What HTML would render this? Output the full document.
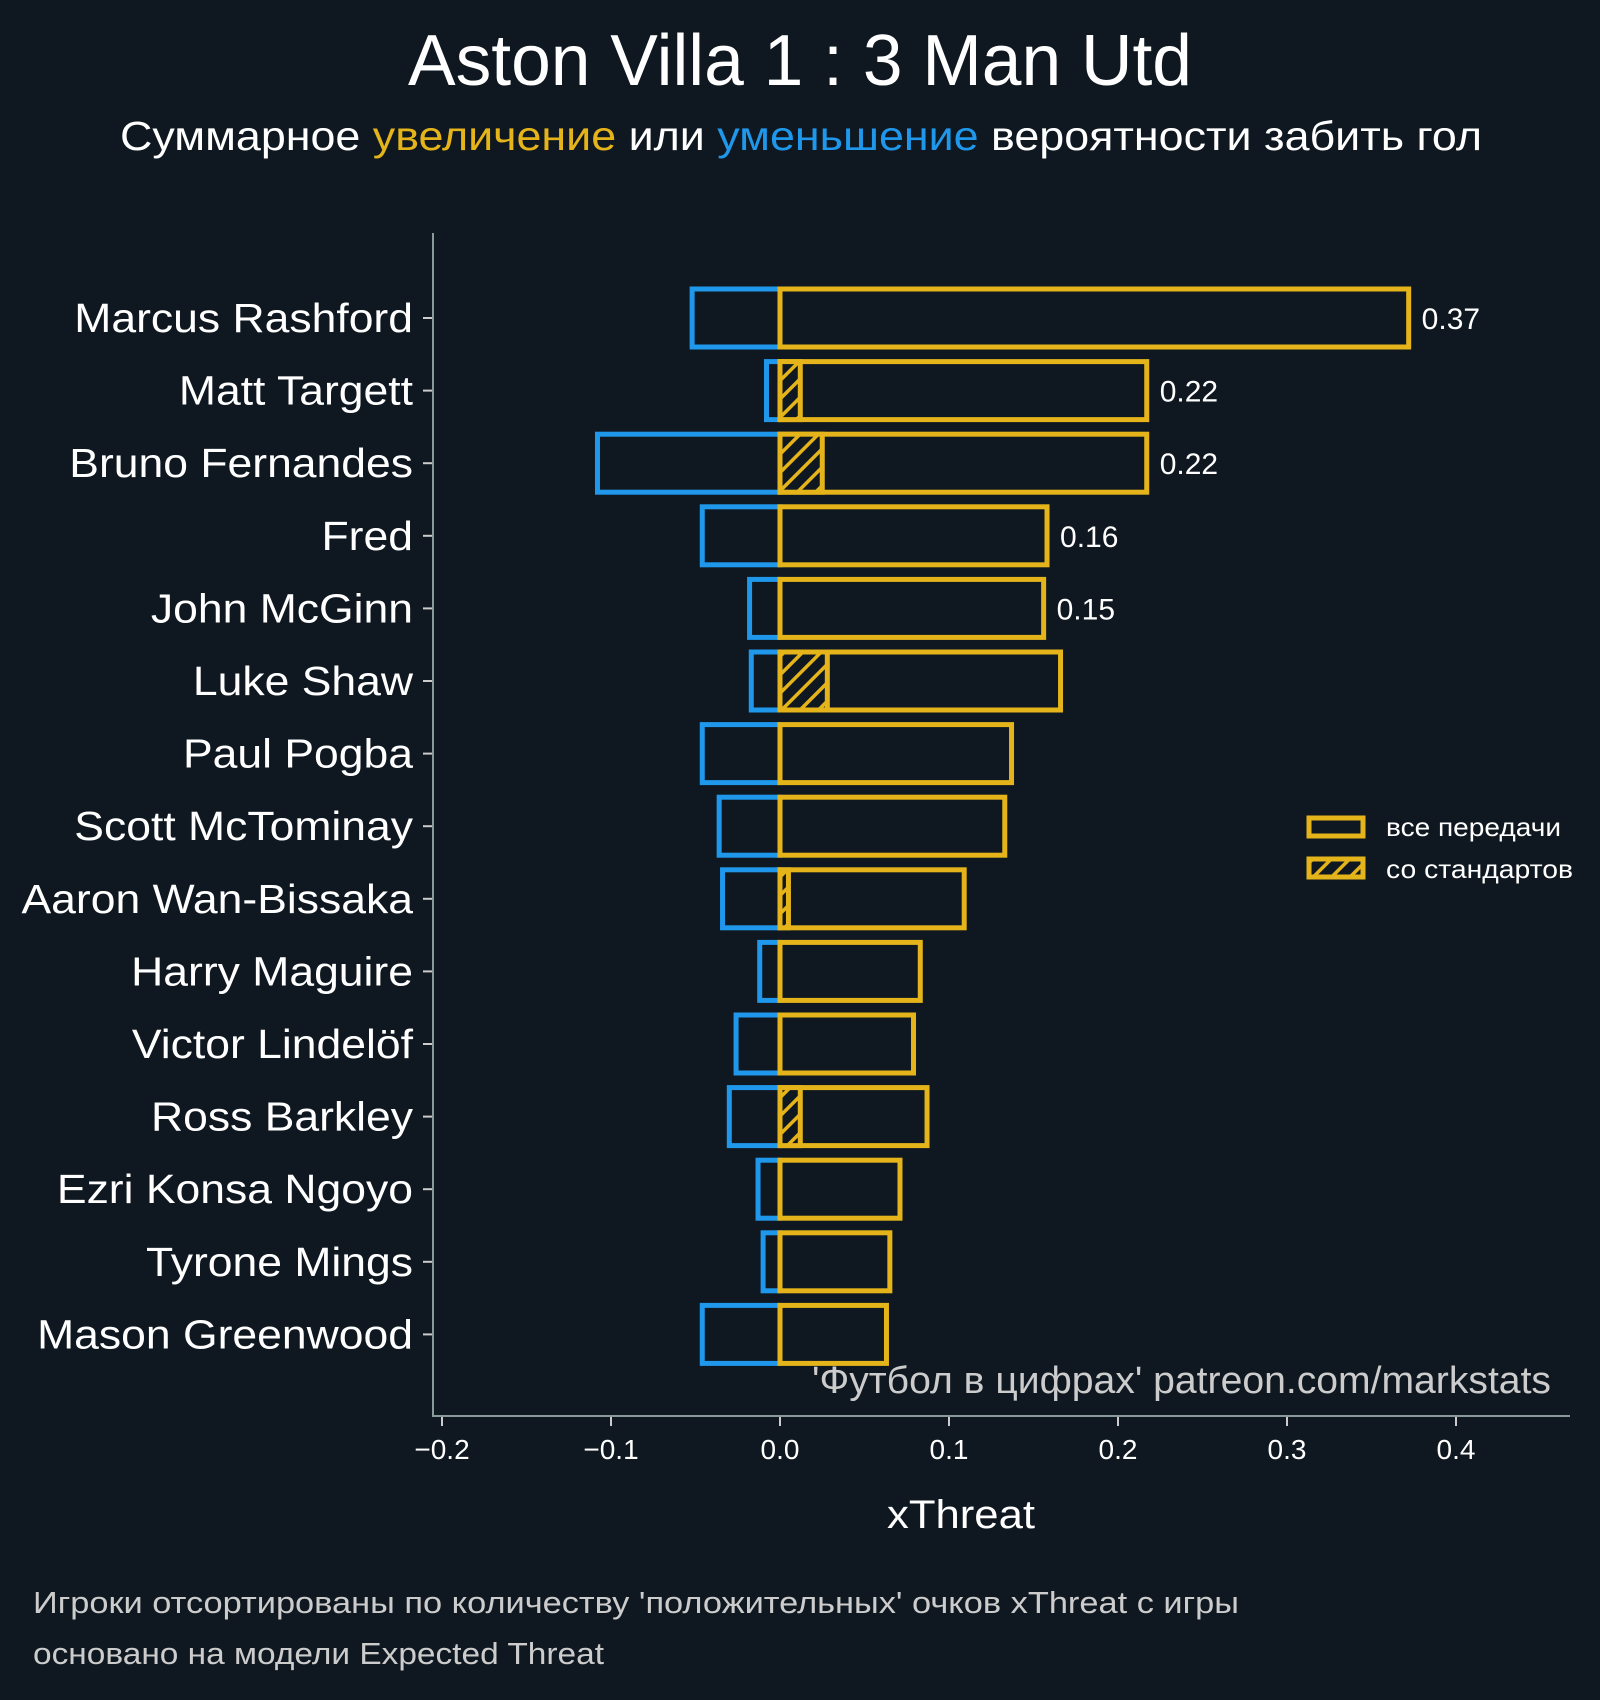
<!DOCTYPE html>
<html><head><meta charset="utf-8">
<style>
html,body{margin:0;padding:0;background:#0f1820;}
svg{display:block;font-family:"Liberation Sans","DejaVu Sans",sans-serif;}
</style></head>
<body>
<svg id="chart" width="1600" height="1700" viewBox="0 0 1600 1700" xmlns="http://www.w3.org/2000/svg">
<defs>
<pattern id="hatch" patternUnits="userSpaceOnUse" width="13" height="13" patternTransform="rotate(45)">
<rect width="13" height="13" fill="#0f1820"/>
<rect x="0" y="0" width="3.5" height="13" fill="#e4b41a"/>
</pattern>
</defs>
<rect width="1600" height="1700" fill="#0f1820"/>
<text x="800" y="85" text-anchor="middle" font-size="72" fill="#ffffff" textLength="784" lengthAdjust="spacingAndGlyphs">Aston Villa 1 : 3 Man Utd</text>
<text x="801" y="150" text-anchor="middle" font-size="41" fill="#ffffff" textLength="1362" lengthAdjust="spacingAndGlyphs">Суммарное <tspan fill="#e4b41a">увеличение</tspan> или <tspan fill="#1f98ec">уменьшение</tspan> вероятности забить гол</text>
<g id="plot"></g>
<g>
<rect x="1309" y="818" width="54" height="18" fill="none" stroke="#e4b41a" stroke-width="5"/>
<text x="1386" y="836" font-size="26" fill="#ffffff" textLength="175" lengthAdjust="spacingAndGlyphs">все передачи</text>
<rect x="1309" y="859" width="54" height="18" fill="url(#hatch)" stroke="#e4b41a" stroke-width="5"/>
<text x="1386" y="878" font-size="26" fill="#ffffff" textLength="187" lengthAdjust="spacingAndGlyphs">со стандартов</text>
</g>
<text x="1551" y="1393" text-anchor="end" font-size="38" fill="#cccccc" textLength="739" lengthAdjust="spacingAndGlyphs">'Футбол в цифрах' patreon.com/markstats</text>
<text x="961" y="1528" text-anchor="middle" font-size="40" fill="#ffffff" textLength="148" lengthAdjust="spacingAndGlyphs">xThreat</text>
<text x="33" y="1613" font-size="31" fill="#cccccc" textLength="1206" lengthAdjust="spacingAndGlyphs">Игроки отсортированы по количеству 'положительных' очков xThreat с игры</text>
<text x="33" y="1664" font-size="31" fill="#cccccc" textLength="571" lengthAdjust="spacingAndGlyphs">основано на модели Expected Threat</text>
</svg>
<script>
const players = ["Marcus Rashford","Matt Targett","Bruno Fernandes","Fred","John McGinn","Luke Shaw","Paul Pogba","Scott McTominay","Aaron Wan-Bissaka","Harry Maguire","Victor Lindelöf","Ross Barkley","Ezri Konsa Ngoyo","Tyrone Mings","Mason Greenwood"];
const positiveValues = [0.372,0.217,0.217,0.158,0.156,0.166,0.137,0.133,0.109,0.083,0.079,0.087,0.071,0.065,0.063];
const negativeValues = [-0.052,-0.008,-0.108,-0.046,-0.018,-0.017,-0.046,-0.036,-0.034,-0.012,-0.026,-0.030,-0.013,-0.010,-0.046];
const setPieceValues = [0,0.012,0.025,0,0,0.028,0,0,0.005,0,0,0.012,0,0,0];
const valueLabels = ["0.37","0.22","0.22","0.16","0.15","","","","","","","","","",""];
const xTicks = [-0.2,-0.1,0.0,0.1,0.2,0.3,0.4];
const xTickLabels = ["−0.2","−0.1","0.0","0.1","0.2","0.3","0.4"];

const NS = "http://www.w3.org/2000/svg";
const plot = document.getElementById('plot');
const x = v => 780 + v * 1690;
const y = i => 318 + i * 72.6;
const barH = 58;
function mk(tag, attrs){ const e=document.createElementNS(NS,tag); for(const k in attrs) e.setAttribute(k,attrs[k]); plot.appendChild(e); return e; }

let s = mk('line',{x1:433,y1:233,x2:433,y2:1417,stroke:'#8a9a9a','stroke-width':2});


s = mk('line',{x1:432,y1:1416,x2:1570,y2:1416,stroke:'#8a9a9a','stroke-width':2});



xTicks.forEach((t,k)=>{
  const tk = mk('line',{x1:x(t),y1:1417,x2:x(t),y2:1426,stroke:'#cccccc','stroke-width':2});
  
  
  const tl = mk('text',{x:x(t),y:1459,'text-anchor':'middle','font-size':28,fill:'#ffffff'});
  tl.textContent = xTickLabels[k];
  
  
});

players.forEach((p,i)=>{
  const cy = y(i);
  const tk = mk('line',{x1:423,y1:cy,x2:432,y2:cy,stroke:'#cccccc','stroke-width':2});
  
  
  const lbl = mk('text',{x:413,y:cy+14,'text-anchor':'end','font-size':41,fill:'#ffffff'});
  lbl.textContent = p;
  
  
  const w = lbl.getComputedTextLength();
  if (w > 0) { lbl.setAttribute('textLength', (w*1.085).toFixed(1)); lbl.setAttribute('lengthAdjust','spacingAndGlyphs'); }

  const nb = mk('rect',{x:x(negativeValues[i]),y:cy-barH/2,width:x(0)-x(negativeValues[i]),height:barH,fill:'none',stroke:'#1f98ec','stroke-width':5});
  
  
  const pb = mk('rect',{x:x(0),y:cy-barH/2,width:x(positiveValues[i])-x(0),height:barH,fill:'none',stroke:'#e4b41a','stroke-width':5});
  
  
  if (setPieceValues[i] > 0) {
    const sb = mk('rect',{x:x(0),y:cy-barH/2,width:x(setPieceValues[i])-x(0),height:barH,fill:'url(#hatch)',stroke:'#e4b41a','stroke-width':5});
    
    
  }
  if (valueLabels[i]) {
    const vl = mk('text',{x:x(positiveValues[i])+13,y:cy+11,'font-size':30,fill:'#ffffff'});
    vl.textContent = valueLabels[i];
    
    
  }
});
</script>
</body></html>
